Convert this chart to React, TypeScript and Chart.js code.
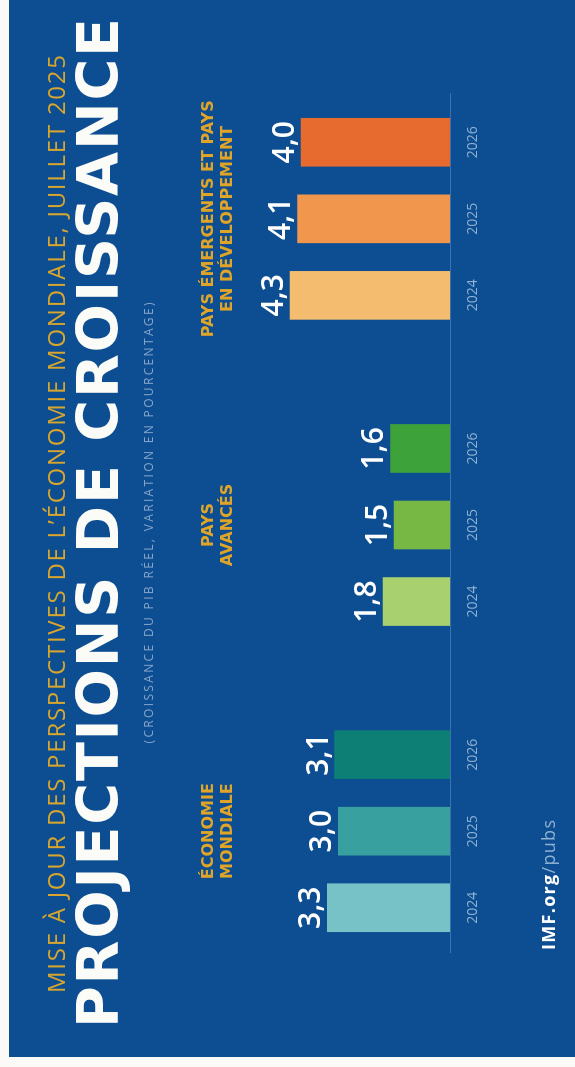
import React, { useEffect, useRef } from "react";
import { Chart, registerables } from "chart.js";

Chart.register(...registerables);

// ---------- data ----------
const groupLabels: string[][] = [
  ["ÉCONOMIE", "MONDIALE"],
  ["PAYS", "AVANCÉS"],
  ["PAYS ÉMERGENTS ET PAYS", "EN DÉVELOPPEMENT"],
];
const years = ["2024", "2025", "2026"];
const economieMondiale = [3.3, 3.0, 3.1];
const paysAvances = [1.8, 1.5, 1.6];
const paysEmergents = [4.3, 4.1, 4.0];
const colorsMondiale = ["#76c2c7", "#38a19f", "#0d7f74"];
const colorsAvances = ["#a9d06e", "#77b844", "#3ea23b"];
const colorsEmergents = ["#f3bc6f", "#f0974d", "#e76a2e"];

const titleText = "MISE À JOUR DES PERSPECTIVES DE L’ÉCONOMIE MONDIALE, JUILLET 2025";
const mainTitle = "PROJECTIONS DE CROISSANCE";
const subTitle = "(CROISSANCE DU PIB RÉEL, VARIATION EN POURCENTAGE)";
const footerBold = "IMF.org";
const footerLight = "/pubs";

// ---------- build chart table ----------
const seriesValues = [economieMondiale, paysAvances, paysEmergents];
const seriesColors = [colorsMondiale, colorsAvances, colorsEmergents];
const labels: string[] = [];
const values: (number | null)[] = [];
const barColors: string[] = [];
const groupCenterIndex: number[] = [];
seriesValues.forEach((vals, g) => {
  if (g > 0) {
    labels.push("");
    values.push(null);
    barColors.push("rgba(0,0,0,0)");
  }
  groupCenterIndex.push(labels.length + 1);
  vals.forEach((v, i) => {
    labels.push(years[i]);
    values.push(v);
    barColors.push(seriesColors[g][i]);
  });
});

// ---------- styles ----------
const W = 1067;
const H = 575;
const BG = "#0c4e91";
const GOLD = "#d8a62e";
const LABEL_GOLD = "#e0a528";
const YEAR_COLOR = "#8eb0d2";
const SUB_COLOR = "#86a4c9";
const LINE_COLOR = "#3a72ad";

function drawSpaced(ctx: any, text: string, x: number, y: number, target: number, align: "center" | "left") {
  ctx.letterSpacing = "0px";
  const w = ctx.measureText(text).width;
  const n = Array.from(text).length;
  const sp = n > 1 ? (target - w) / (n - 1) : 0;
  const start = align === "center" ? x - target / 2 : x;
  ctx.textAlign = "left";
  if ("letterSpacing" in ctx) {
    ctx.letterSpacing = sp + "px";
    ctx.fillText(text, start, y);
    ctx.letterSpacing = "0px";
  } else {
    ctx.fillText(text, start, y);
  }
}

const decorPlugin = {
  id: "decor",
  beforeDraw(chart: any) {
    const ctx = chart.ctx;
    ctx.save();
    ctx.fillStyle = "#fbfaf6";
    ctx.fillRect(0, 0, W, H);
    ctx.fillStyle = BG;
    ctx.fillRect(10, 9, W - 10, H - 9);
    ctx.restore();
  },
  afterDatasetsDraw(chart: any) {
    const ctx = chart.ctx;
    const meta = chart.getDatasetMeta(0);
    const xs = chart.scales.x;
    const area = chart.chartArea;
    ctx.save();
    // baseline
    ctx.strokeStyle = LINE_COLOR;
    ctx.lineWidth = 1;
    ctx.beginPath();
    ctx.moveTo(xs.left - 7, area.bottom + 0.5);
    ctx.lineTo(xs.right + 11, area.bottom + 0.5);
    ctx.stroke();
    // value labels
    ctx.fillStyle = "#ffffff";
    ctx.font = "600 30px 'Open Sans', 'DejaVu Sans', sans-serif";
    ctx.textAlign = "center";
    ctx.textBaseline = "alphabetic";
    meta.data.forEach((bar: any, i: number) => {
      const v = values[i];
      if (v == null) return;
      ctx.fillText(v.toFixed(1).replace(".", ","), bar.x, bar.y - 7);
    });
    // group labels
    ctx.fillStyle = LABEL_GOLD;
    ctx.font = "bold 16px 'DejaVu Sans', sans-serif";
    groupLabels.forEach((lines, g) => {
      const bar = meta.data[groupCenterIndex[g]];
      lines.forEach((line, k) => {
        ctx.fillText(line, bar.x, 213 + k * 19);
      });
    });
    ctx.restore();
  },
  afterDraw(chart: any) {
    const ctx = chart.ctx;
    ctx.save();
    ctx.textBaseline = "alphabetic";
    // title line 1
    ctx.fillStyle = GOLD;
    ctx.font = "400 24px 'Open Sans', sans-serif";
    drawSpaced(ctx, titleText, 543, 65, 938, "center");
    // main title
    ctx.fillStyle = "#fbfbf7";
    ctx.font = "bold 57px 'DejaVu Sans', sans-serif";
    drawSpaced(ctx, mainTitle, 544, 118, 1010, "center");
    // subtitle
    ctx.fillStyle = SUB_COLOR;
    ctx.font = "400 12px 'Open Sans', sans-serif";
    drawSpaced(ctx, subTitle, 544, 153, 441, "center");
    // footer
    const fx = 117;
    const fy = 555;
    ctx.font = "bold 18px 'Open Sans', sans-serif";
    ctx.letterSpacing = "0px";
    const w1 = ctx.measureText(footerBold).width;
    ctx.font = "18px 'Open Sans', sans-serif";
    const w2 = ctx.measureText(footerLight).width;
    const n = footerBold.length + footerLight.length;
    const sp = (130 - (w1 + w2)) / (n - 1);
    ctx.font = "bold 18px 'Open Sans', sans-serif";
    ctx.fillStyle = "#ffffff";
    drawSpaced(ctx, footerBold, fx, fy, w1 + sp * (footerBold.length - 1), "left");
    ctx.font = "18px 'Open Sans', sans-serif";
    ctx.fillStyle = YEAR_COLOR;
    drawSpaced(
      ctx,
      footerLight,
      fx + w1 + sp * footerBold.length,
      fy,
      w2 + sp * (footerLight.length - 1),
      "left"
    );
    ctx.restore();
  },
};

export default function App() {
  const ref = useRef<HTMLCanvasElement | null>(null);

  useEffect(() => {
    if (!ref.current) return;
    const chart = new Chart(ref.current, {
      type: "bar",
      data: {
        labels,
        datasets: [
          {
            data: values,
            backgroundColor: barColors,
            borderWidth: 0,
            barThickness: 48,
          },
        ],
      },
      options: {
        responsive: false,
        animation: false,
        devicePixelRatio: 1,
        layout: { padding: { left: 121, right: 104, top: 264, bottom: 0 } },
        plugins: {
          legend: { display: false },
          tooltip: { enabled: false },
          title: { display: false },
        },
        scales: {
          x: {
            grid: { display: false, drawTicks: false, tickLength: 0 },
            border: { display: false },
            ticks: {
              color: YEAR_COLOR,
              font: { family: "'Open Sans', sans-serif", size: 14 },
              padding: 15,
              maxRotation: 0,
              autoSkip: false,
            },
            afterFit: (scale: any) => {
              scale.height = 125;
            },
          },
          y: { display: false, min: 0, max: 5 },
        },
      } as any,
      plugins: [decorPlugin],
    });
    return () => chart.destroy();
  }, []);

  return (
    <div
      style={{
        position: "absolute",
        left: 0,
        top: 0,
        width: H,
        height: W,
        overflow: "hidden",
        background: "#fbfaf6",
      }}
    >
      <div
        style={{
          position: "absolute",
          left: 0,
          top: 0,
          width: W,
          height: H,
          transformOrigin: "0 0",
          transform: `translate(0px, ${W}px) rotate(-90deg)`,
        }}
      >
        <canvas ref={ref} width={W} height={H} style={{ display: "block", width: W, height: H }} />
      </div>
    </div>
  );
}
